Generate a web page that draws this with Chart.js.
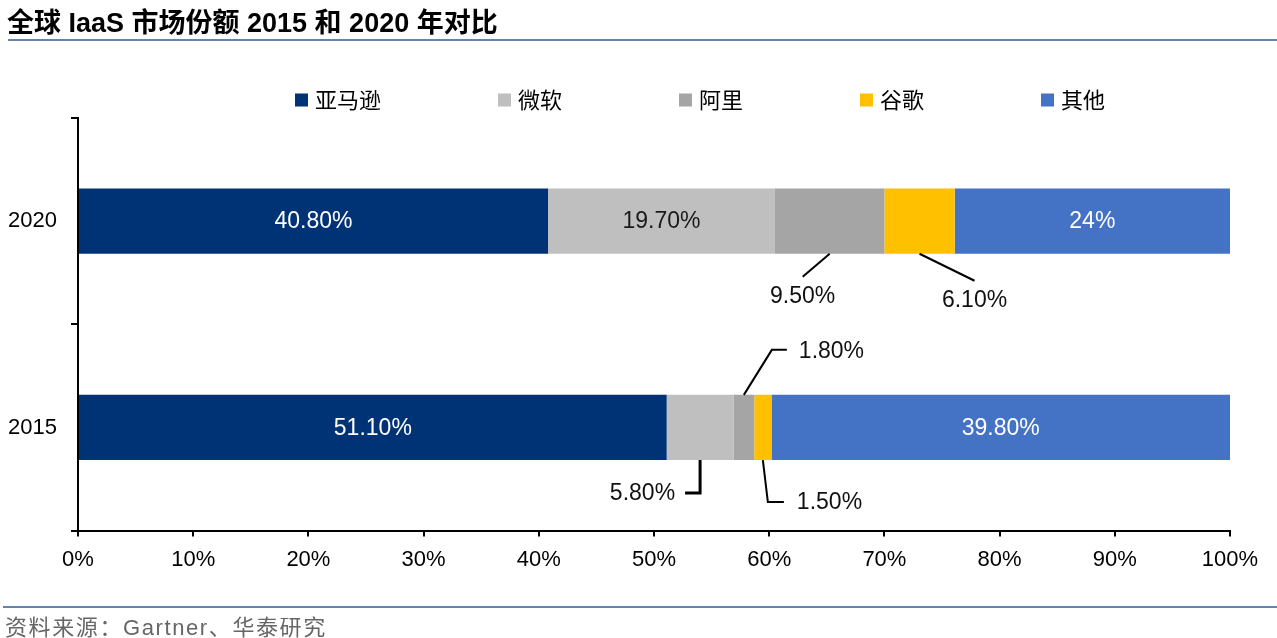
<!DOCTYPE html>
<html>
<head>
<meta charset="utf-8">
<script src="https://cdn.jsdelivr.net/npm/chart.js@4.4.1/dist/chart.umd.min.js"></script>
<style>
  html, body { margin: 0; padding: 0; background: #fff; }
  #wrap { position: relative; width: 1277px; height: 638px; overflow: hidden; }
  #chart { position: absolute; left: 0; top: 0; }
  .title {
    position: absolute; left: 7px; top: 1px; line-height: 28px;
    font: bold 27px "Liberation Sans", Arial, "Noto Sans CJK SC", sans-serif; color: #000;
  }
  .rule { position: absolute; right: 0; height: 2px; background: #6383b0; }
  .source {
    position: absolute; left: 5px; top: 609px; line-height: 26px; letter-spacing: 1.6px;
    font: 22px "Liberation Sans", Arial, "Noto Sans CJK SC", sans-serif; color: #666;
  }
</style>
</head>
<body>
<div id="wrap">
  <canvas id="chart" width="1277" height="638"></canvas>
  <div class="title">全球 IaaS 市场份额 2015 和 2020 年对比</div>
  <div class="rule" style="left:8px;top:39px"></div>
  <div class="rule" style="left:3px;top:606px"></div>
  <div class="source">资料来源：Gartner、华泰研究</div>
</div>
<script>
// Market share (%) per vendor, one value per year
const years = ['2020', '2015'];
const vendors = ['亚马逊', '微软', '阿里', '谷歌', '其他'];
const amazon = [40.8, 51.1];
const microsoft = [19.7, 5.8];
const alibaba = [9.5, 1.8];
const google = [6.1, 1.5];
const others = [24, 39.8];
const xTickValues = [0, 10, 20, 30, 40, 50, 60, 70, 80, 90, 100];

const colors = ['#003376', '#bfbfbf', '#a5a5a5', '#ffc000', '#4472c4'];
const FONT = '"Liberation Sans", Arial, "Noto Sans CJK SC", sans-serif';

function fmtPct(v) {
    return (Number.isInteger(v) ? String(v) : v.toFixed(2)) + '%';
}

// Legend drawn by hand so item spacing can match the reference
const wideLegend = {
    id: 'wideLegend',
    afterDraw(chart, args, opts) {
        const ctx = chart.ctx;
        ctx.save();
        ctx.font = '22px "Noto Sans CJK SC", sans-serif';
        ctx.textBaseline = 'middle';
        let x = opts.x;
        chart.data.datasets.forEach(ds => {
            ctx.fillStyle = ds.backgroundColor;
            ctx.fillRect(x, opts.y - opts.box / 2, opts.box, opts.box);
            ctx.fillStyle = '#000';
            ctx.fillText(ds.label, x + opts.box + opts.gap, opts.y);
            x += opts.box + opts.gap + ctx.measureText(ds.label).width + opts.spacing;
        });
        ctx.restore();
    }
};

// Value labels: inside the bar, or pulled out with a leader line
const barLabels = {
    id: 'barLabels',
    afterDatasetsDraw(chart, args, opts) {
        const ctx = chart.ctx;
        ctx.save();
        ctx.font = '23px ' + FONT;
        ctx.textBaseline = 'middle';
        chart.data.datasets.forEach((ds, di) => {
            const meta = chart.getDatasetMeta(di);
            meta.data.forEach((bar, i) => {
                const p = bar.getProps(['x', 'y', 'base', 'height'], true);
                const text = fmtPct(ds.data[i]);
                const cx = (p.base + Math.min(p.x, chart.chartArea.right)) / 2;
                const call = opts.callouts.find(c => c.ds === di && c.idx === i);
                if (!call) {
                    ctx.fillStyle = opts.insideColors[di];
                    ctx.textAlign = 'center';
                    ctx.fillText(text, cx, p.y + 1);
                    return;
                }
                const ay = call.side === 'top' ? p.y - p.height / 2 : p.y + p.height / 2;
                ctx.strokeStyle = '#000';
                ctx.lineWidth = call.lw || 2;
                ctx.beginPath();
                call.path.forEach((pt, k) => {
                    if (k === 0) ctx.moveTo(cx + pt[0], ay + pt[1]);
                    else ctx.lineTo(cx + pt[0], ay + pt[1]);
                });
                ctx.stroke();
                ctx.fillStyle = '#111';
                ctx.textAlign = call.align;
                ctx.fillText(text, cx + call.text[0], ay + call.text[1]);
            });
        });
        ctx.restore();
    }
};

const ctx = document.getElementById('chart').getContext('2d');
new Chart(ctx, {
    type: 'bar',
    data: {
        labels: years,
        datasets: [amazon, microsoft, alibaba, google, others].map((vals, k) => ({
            label: vendors[k],
            data: vals,
            backgroundColor: colors[k],
            borderWidth: 0,
            categoryPercentage: 1,
            barPercentage: 0.316
        }))
    },
    options: {
        indexAxis: 'y',
        responsive: false,
        animation: false,
        layout: { padding: { top: 118, left: 6, right: 47, bottom: 55 } },
        scales: {
            x: {
                stacked: true,
                min: 0,
                max: 100,
                afterBuildTicks: axis => { axis.ticks = xTickValues.map(v => ({ value: v })); },
                ticks: {
                    color: '#000',
                    padding: 10,
                    font: { size: 22, family: FONT },
                    callback: v => v + '%'
                },
                grid: { drawOnChartArea: false, color: '#000', lineWidth: 2, tickLength: 6 },
                border: { color: '#000', width: 2 }
            },
            y: {
                stacked: true,
                afterFit: axis => { axis.width = 72; },
                ticks: { color: '#000', padding: 14, font: { size: 22, family: FONT } },
                grid: { drawOnChartArea: false, color: '#000', lineWidth: 2, tickLength: 7, offset: true },
                border: { color: '#000', width: 2 }
            }
        },
        plugins: {
            legend: { display: false },
            tooltip: { enabled: false },
            wideLegend: { x: 295, y: 100, box: 13, gap: 7, spacing: 117 },
            barLabels: {
                insideColors: ['#fff', '#1a1a1a', '#1a1a1a', '#1a1a1a', '#fff'],
                callouts: [
                    { ds: 2, idx: 0, side: 'bottom', path: [[0, 0], [-27, 23]], text: [-27, 43], align: 'center' },
                    { ds: 3, idx: 0, side: 'bottom', path: [[0, 0], [55, 27]], text: [55, 47], align: 'center' },
                    { ds: 2, idx: 1, side: 'top', path: [[0, 0], [28, -45], [43, -45]], text: [55, -43], align: 'left' },
                    { ds: 1, idx: 1, side: 'bottom', path: [[0, 0], [0, 33], [-15, 33]], text: [-25, 34], align: 'right', lw: 3 },
                    { ds: 3, idx: 1, side: 'bottom', path: [[0, 0], [5, 42], [21, 42]], text: [34, 43], align: 'left' }
                ]
            }
        }
    },
    plugins: [wideLegend, barLabels]
});
</script>
</body>
</html>
